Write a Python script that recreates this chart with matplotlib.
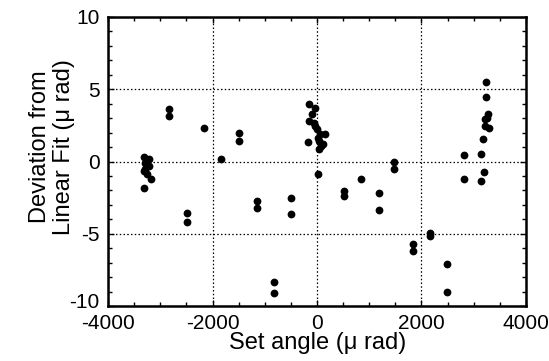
import matplotlib
matplotlib.use("Agg")
import matplotlib.pyplot as plt
from matplotlib.ticker import MultipleLocator
from matplotlib.transforms import ScaledTranslation

plt.rcParams['font.family'] = ['Liberation Sans', 'DejaVu Sans']
plt.rcParams['axes.unicode_minus'] = False

set_angle = [
    -3317, -3285, -3222, -3317, -3254, -3170, -3305, -3222, -3285,
    -2839, -2839, -2169, -2488, -2488, -1831, -1499, -1499,
    -1148, -1148, -491, -491, -829, -829,
    -147, -45, -96, -160, -64, 0, 64, 147, -172, 32, 108, 32, 83, -32, 13,
    19, 510, 510, 842, 1180, 1180, 1480, 1480,
    1837, 1837, 2156, 2156, 2488, 2488,
    2820, 2820, 3145, 3190, 3145, 3171,
    3234, 3234, 3266, 3222, 3209, 3298, 3254,
]
deviation = [
    0.28, -0.07, -0.30, -0.65, -0.88, -1.18, -1.80, 0.16, -0.53,
    3.62, 3.16, 2.30, -3.53, -4.17, 0.16, 2.00, 1.43,
    -2.76, -3.18, -2.49, -3.64, -8.36, -9.10,
    3.96, 3.73, 3.27, 2.81, 2.70, 2.24, 1.89, 1.89, 1.36, 1.43, 1.20, 0.85, 1.08, 2.47, 1.66,
    -0.88, -2.03, -2.37, -1.18, -2.19, -3.34, 0.00, -0.53,
    -5.67, -6.22, -4.91, -5.14, -7.10, -8.99,
    0.44, -1.18, 0.51, -0.71, -1.34, 1.54,
    5.53, 4.47, 3.27, 2.93, 2.47, 2.30, 3.04,
]
y_ticks = [-10, -5, 0, 5, 10]

fig = plt.figure(figsize=(5.49, 3.61), dpi=100)
ax = fig.add_axes([0.197, 0.152, 0.761, 0.801])
ax.plot(set_angle, deviation, 'o', color='black', markersize=5.6, markeredgewidth=0)
ax.set_xlim(-4000, 4000)
ax.set_ylim(-10, 10)
ax.xaxis.set_major_locator(MultipleLocator(2000))
ax.xaxis.set_minor_locator(MultipleLocator(500))
ax.set_yticks(y_ticks)
ax.yaxis.set_minor_locator(MultipleLocator(1))
ax.grid(True, which='major', color='black', linestyle=(0, (1.2, 1.8)), linewidth=0.9)
ax.tick_params(which='both', direction='in', top=True, right=True, labelsize=15, width=1)
ax.tick_params(axis='x', which='major', pad=6)
ax.tick_params(axis='y', which='major', pad=6)
ax.tick_params(which='major', length=4)
ax.tick_params(which='minor', length=3)
for s in ax.spines.values():
    s.set_linewidth(1.8)
lbl = ax.get_yticklabels()[0]
lbl.set_transform(lbl.get_transform() + ScaledTranslation(0, 4 / 72, fig.dpi_scale_trans))
ax.set_xlabel('Set angle (\u03bc rad)', fontsize=17)
ax.set_ylabel('Deviation from\nLinear Fit (\u03bc rad)', fontsize=17, linespacing=1.1)
ax.xaxis.set_label_coords(0.502, -0.128)
ax.xaxis.label.set_va('center')
ax.yaxis.set_label_coords(-0.134, 0.55)
ax.yaxis.label.set_va('center')
ax.yaxis.label.set_ha('center')
fig.savefig('out.png', dpi=100)
